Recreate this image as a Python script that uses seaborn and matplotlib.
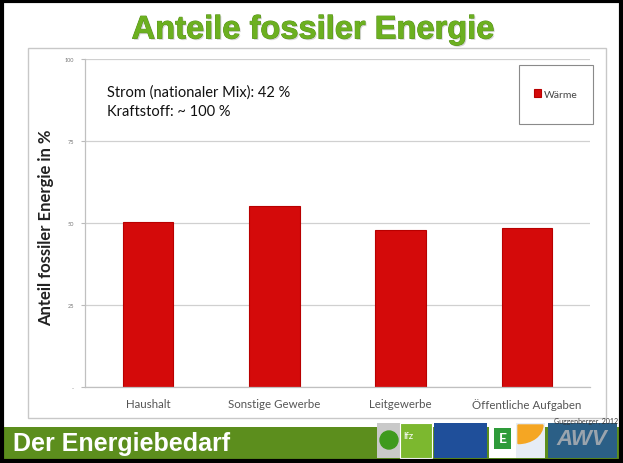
import matplotlib
matplotlib.use("Agg")
import matplotlib.pyplot as plt
import matplotlib.patheffects as pe
from matplotlib.patches import Rectangle, Ellipse, Wedge
import pandas as pd
import seaborn as sns

# data
categories = ["Haushalt", "Sonstige Gewerbe", "Leitgewerbe", "Öffentliche Aufgaben"]
waerme = [50.2, 55.2, 47.9, 48.6]
series_name = "Wärme"
y_ticks = [0, 25, 50, 75, 100]
y_tick_labels = ["-", "25", "50", "75", "100"]
notes = ["Strom (nationaler Mix): 42 %", "Kraftstoff: ~ 100 %"]

df = pd.DataFrame({"Bereich": categories, "Anteil": waerme, "Serie": series_name})

sns.set_theme(style="white")
plt.rcParams["font.family"] = ["Lato", "DejaVu Sans"]

W, H = 623, 464
fig = plt.figure(figsize=(W / 100, H / 100), dpi=100)
fig.patch.set_facecolor("white")


def fx(x):
    return x / W


def fy(y):
    return 1 - y / H


def box(x0, y0, x1, y1, **kw):
    r = Rectangle((fx(x0), fy(y1)), fx(x1) - fx(x0), fy(y0) - fy(y1),
                  transform=fig.transFigure, **kw)
    fig.patches.append(r)
    return r


# chart panel
box(28, 49, 606, 419, fill=False, ec="#c8c8c8", lw=1)

ax = fig.add_axes([fx(85), fy(388), fx(590) - fx(85), fy(60) - fy(388)])
sns.barplot(data=df, x="Bereich", y="Anteil", hue="Serie", palette=["#d40a0a"],
            saturation=1, width=0.4, ax=ax, edgecolor="#b80000", linewidth=0.8)
handles, labels = ax.get_legend_handles_labels()
ax.get_legend().remove()

ax.set_xlim(-0.5, 3.5)
ax.set_ylim(0, 100)
ax.set_yticks(y_ticks)
ax.set_yticklabels(y_tick_labels, fontsize=4, color="#777777")
ax.yaxis.grid(True, color="#d0d0d0", lw=0.9)
ax.set_axisbelow(True)
ax.set_xlabel("")
ax.set_ylabel("")
ax.tick_params(axis="x", labelsize=8.3, colors="#555555", length=0, pad=8)
ax.tick_params(axis="y", length=3, color="#bbbbbb", width=0.8, pad=5, left=True)
sns.despine(ax=ax, top=True, right=True)
for s in ["left", "bottom"]:
    ax.spines[s].set_color("#c0c0c0")
    ax.spines[s].set_linewidth(0.9)

fig.text(fx(46), fy(228), "Anteil fossiler Energie in %", rotation=90,
         ha="center", va="center", fontsize=12, fontweight="bold", color="#222222")

fig.text(fx(107), fy(93), notes[0], ha="left", va="center", fontsize=10.5, color="#111111")
fig.text(fx(107), fy(112), notes[1], ha="left", va="center", fontsize=10.5, color="#111111")

# legend
box(519, 66, 593, 125, fill=False, ec="#8a8a8a", lw=0.8)
fig.legend(handles, labels, loc="center", bbox_to_anchor=(fx(556), fy(95)),
           frameon=False, fontsize=7.5, handlelength=0.7, handleheight=0.7,
           handletextpad=0.3, labelcolor="#444444")

# slide title
fig.text(fx(313), fy(31), "Anteile fossiler Energie", ha="center", va="center",
         fontsize=23.5, fontweight="bold", family="Liberation Sans", color="#6cb020",
         path_effects=[pe.SimplePatchShadow(offset=(1, -1), shadow_rgbFace="#999999", alpha=0.4),
                       pe.withStroke(linewidth=0.6, foreground="#4f8a12")])

# footer
box(0, 428, 623, 460, color="#5c8e1d", lw=0)
fig.text(fx(13), fy(451), "Der Energiebedarf", ha="left", va="baseline",
         fontsize=18, fontweight="bold", family="Liberation Sans", color="white")
fig.text(fx(618), fy(421), "Guggenberger, 2012", ha="right", va="center",
         fontsize=5, color="#333333")

# logos
box(377, 424, 400, 459, color="#c9c9c9", lw=0)
fig.patches.append(Ellipse((fx(389), fy(441)), fx(18), 18 / H, transform=fig.transFigure,
                           color="#3f9a1e"))
box(400, 424, 432, 459, color="#7cb82f", ec="white", lw=0.8)
fig.text(fx(403), fy(437), "lfz", fontsize=7, color="white", va="center")
box(434, 424, 487, 459, color="#1f4f9a", lw=0)
box(489, 424, 516, 459, color="white", lw=0)
box(494, 429, 511, 450, color="#2e9b3a", lw=0)
fig.text(fx(502.5), fy(439.5), "E", fontsize=10, fontweight="bold", color="white",
         ha="center", va="center")
box(516, 424, 545, 459, color="#e6ecf5", lw=0)
fig.patches.append(Wedge((fx(518), fy(426)), 0.04, 270, 360, transform=fig.transFigure,
                         color="#f5a623"))
box(548, 424, 617, 459, color="#2b5f86", lw=0)
fig.text(fx(582), fy(440), "AWV", fontsize=16, fontweight="bold", style="italic",
         family="Liberation Sans", color="#9aa4ad", ha="center", va="center")

# slide border
fig.patches.append(Rectangle((0.003, 0.005), 0.993, 0.991, transform=fig.transFigure,
                             fill=False, ec="black", lw=3))

fig.savefig("out.png", dpi=100)
